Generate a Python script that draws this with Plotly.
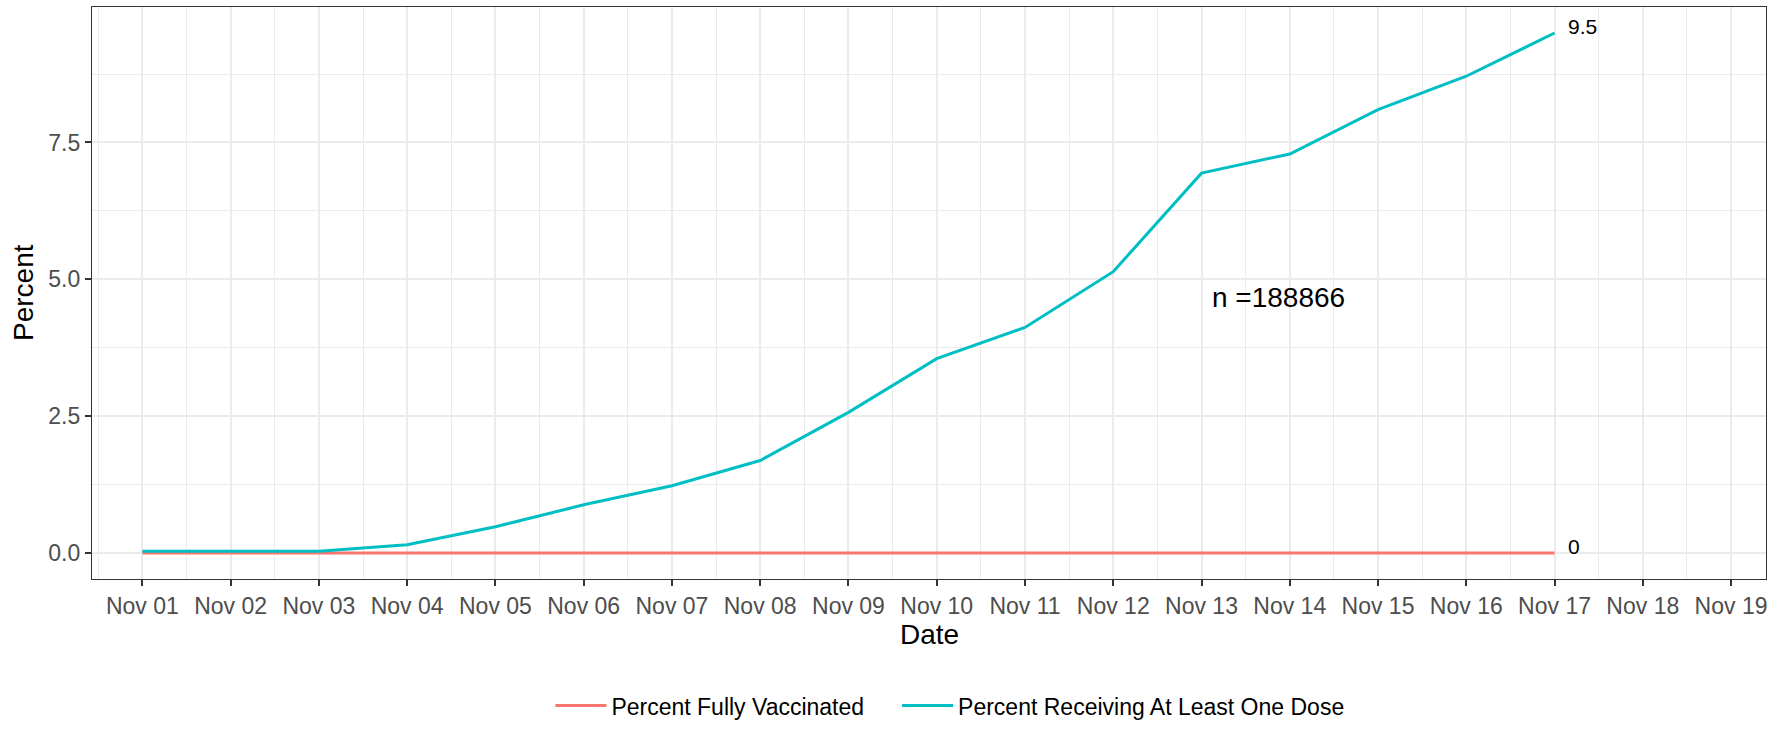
import pandas as pd
import plotly.graph_objects as go

dates = pd.date_range("2021-11-01", "2021-11-17", freq="D")
one_dose = [0.03, 0.03, 0.03, 0.15, 0.48, 0.88, 1.23, 1.69, 2.57, 3.55,
            4.12, 5.14, 6.94, 7.29, 8.10, 8.71, 9.50]
fully = [0] * 17
tick_dates = pd.date_range("2021-11-01", "2021-11-19", freq="D")
n_label = "n =188866"

RED = "#F8766D"
CYAN = "#00BFC4"
FONT = "Liberation Sans, Arial, sans-serif"

fig = go.Figure()
fig.add_trace(go.Scatter(x=dates, y=fully, mode="lines", name="Percent Fully Vaccinated",
                         line=dict(color=RED, width=3), legend="legend", showlegend=True))
fig.add_trace(go.Scatter(x=dates, y=one_dose, mode="lines", name="Percent Receiving At Least One Dose",
                         line=dict(color=CYAN, width=3), legend="legend2", showlegend=True))

# end-of-line labels
for val, txt in [(one_dose[-1], "9.5"), (fully[-1], "0")]:
    fig.add_annotation(x=dates[-1], y=val, text=txt, showarrow=False,
                       xanchor="left", xshift=11, yshift=7,
                       font=dict(size=21, color="black", family=FONT))

fig.add_annotation(x=pd.Timestamp("2021-11-13 21:00"), y=4.67, text=n_label, showarrow=False,
                   font=dict(size=28, color="black", family=FONT))

# axis titles
fig.add_annotation(xref="paper", yref="paper", x=0.5, y=0, yshift=-55, text="Date",
                   showarrow=False, yanchor="middle", font=dict(size=28, color="black", family=FONT))
fig.add_annotation(xref="paper", yref="paper", x=0, y=0.5, xshift=-69, text="Percent",
                   textangle=-90, showarrow=False, xanchor="center",
                   font=dict(size=28, color="black", family=FONT))

day = 86400000
fig.update_xaxes(
    range=[pd.Timestamp("2021-11-01") - pd.Timedelta(hours=13.7),
           pd.Timestamp("2021-11-19") + pd.Timedelta(hours=9.5)],
    tickvals=tick_dates, tickformat="%b %d",
    ticks="outside", ticklen=6, tickcolor="#333333", tickwidth=1.5,
    tickfont=dict(size=23, color="#4D4D4D", family=FONT),
    showgrid=True, gridcolor="#EBEBEB", gridwidth=1.5,
    minor=dict(dtick=day, tick0="2021-11-01 12:00", showgrid=True, gridcolor="#EBEBEB", gridwidth=0.8),
    showline=True, mirror=True, linecolor="#333333", linewidth=1.2,
    zeroline=False, automargin=False,
)
fig.update_yaxes(
    range=[-0.475, 9.975],
    tickvals=[0, 2.5, 5, 7.5], ticktext=["0.0", "2.5", "5.0", "7.5"],
    ticks="outside", ticklen=6, tickcolor="#333333", tickwidth=1.5,
    tickfont=dict(size=23, color="#4D4D4D", family=FONT),
    showgrid=True, gridcolor="#EBEBEB", gridwidth=1.5,
    minor=dict(tickvals=[1.25, 3.75, 6.25, 8.75], showgrid=True, gridcolor="#EBEBEB", gridwidth=0.8),
    showline=True, mirror=True, linecolor="#333333", linewidth=1.2,
    zeroline=False, automargin=False,
)

leg = dict(orientation="h", xref="container", yref="container", xanchor="left",
           y=0.032, yanchor="middle", itemwidth=51, visible=True,
           font=dict(size=23, color="black", family=FONT), bgcolor="rgba(0,0,0,0)")
fig.update_layout(
    width=1787, height=729,
    margin=dict(l=92, r=21, t=7, b=150),
    plot_bgcolor="white", paper_bgcolor="white",
    font=dict(family=FONT),
    showlegend=True,
    legend=dict(leg, x=0.308),
    legend2=dict(leg, x=0.502),
)

fig.write_html("out.html", config={"displayModeBar": False},
               post_script="document.body.style.margin = '0';")
